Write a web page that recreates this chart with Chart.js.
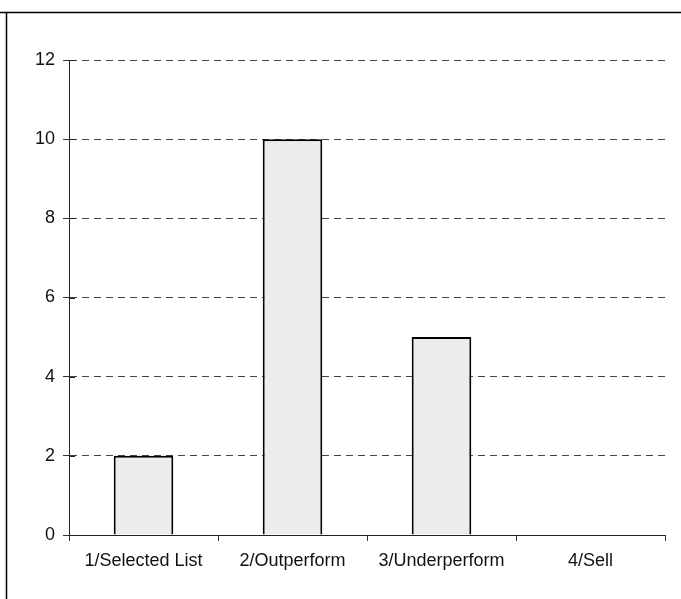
<!DOCTYPE html>
<html>
<head>
<meta charset="utf-8">
<script src="https://cdn.jsdelivr.net/npm/chart.js@4.4.0/dist/chart.umd.min.js"></script>
<style>
  html, body { margin: 0; padding: 0; background: #fff; }
  #wrap { width: 681px; height: 599px; }
</style>
</head>
<body>
<div id="wrap"><canvas id="ratingChart" width="681" height="599"></canvas></div>
<script>
// Data
const categories = ['1/Selected List', '2/Outperform', '3/Underperform', '4/Sell'];
const counts = [2, 10, 5, 0];
const yTicks = [0, 2, 4, 6, 8, 10, 12];

// Frame lines along top and left edge, the solid x axis line and the inner part of the y ticks
const framePlugin = {
    id: 'frame',
    afterDraw(chart) {
        const ctx = chart.ctx;
        const x = chart.scales.x;
        const y = chart.scales.y;
        ctx.save();
        ctx.setLineDash([]);
        ctx.strokeStyle = '#000';
        ctx.lineWidth = 1.5;
        ctx.beginPath();
        ctx.moveTo(0, 12.5);
        ctx.lineTo(681, 12.5);
        ctx.moveTo(6.5, 12.5);
        ctx.lineTo(6.5, 599);
        ctx.stroke();

        ctx.strokeStyle = '#222';
        ctx.lineWidth = 1;
        ctx.beginPath();
        const y0 = Math.round(y.getPixelForValue(0)) + 0.5;
        ctx.moveTo(x.left, y0);
        ctx.lineTo(x.right, y0);
        yTicks.forEach(v => {
            const py = Math.round(y.getPixelForValue(v)) + 0.5;
            ctx.moveTo(y.right, py);
            ctx.lineTo(y.right + 6, py);
        });
        ctx.stroke();
        ctx.restore();
    }
};

const config = {
    type: 'bar',
    data: {
        labels: categories,
        datasets: [{
            data: counts,
            backgroundColor: '#ebeded',
            borderColor: '#000',
            borderWidth: 2,
            barPercentage: 0.4,
            categoryPercentage: 1
        }]
    },
    options: {
        responsive: false,
        animation: false,
        layout: { padding: { top: 60, right: 16, left: 0, bottom: 0 } },
        plugins: {
            legend: { display: false },
            tooltip: { enabled: false }
        },
        scales: {
            x: {
                offset: true,
                grid: {
                    offset: true,
                    drawOnChartArea: false,
                    drawTicks: true,
                    tickLength: 6,
                    tickColor: '#333',
                    tickWidth: 1
                },
                border: { display: false },
                ticks: {
                    color: '#111',
                    font: { family: 'Liberation Sans, Arial, sans-serif', size: 18 },
                    padding: 9,
                    maxRotation: 0
                },
                afterFit(scale) { scale.height = 64; }
            },
            y: {
                min: 0,
                max: 12,
                afterBuildTicks(scale) { scale.ticks = yTicks.map(v => ({ value: v })); },
                grid: {
                    color: ctx => ctx.tick && ctx.tick.value === 0 ? 'rgba(0,0,0,0)' : '#444',
                    lineWidth: 1,
                    tickLength: 6,
                    tickColor: '#333',
                    tickBorderDash: [],
                    tickWidth: 1
                },
                border: { color: '#222', width: 1, dash: [7, 5] },
                ticks: {
                    color: '#111',
                    font: { family: 'Liberation Sans, Arial, sans-serif', size: 18 },
                    padding: 8
                },
                afterFit(scale) { scale.width = 69; }
            }
        }
    },
    plugins: [framePlugin]
};

const ctx = document.getElementById('ratingChart').getContext('2d');
new Chart(ctx, config);
</script>
</body>
</html>
